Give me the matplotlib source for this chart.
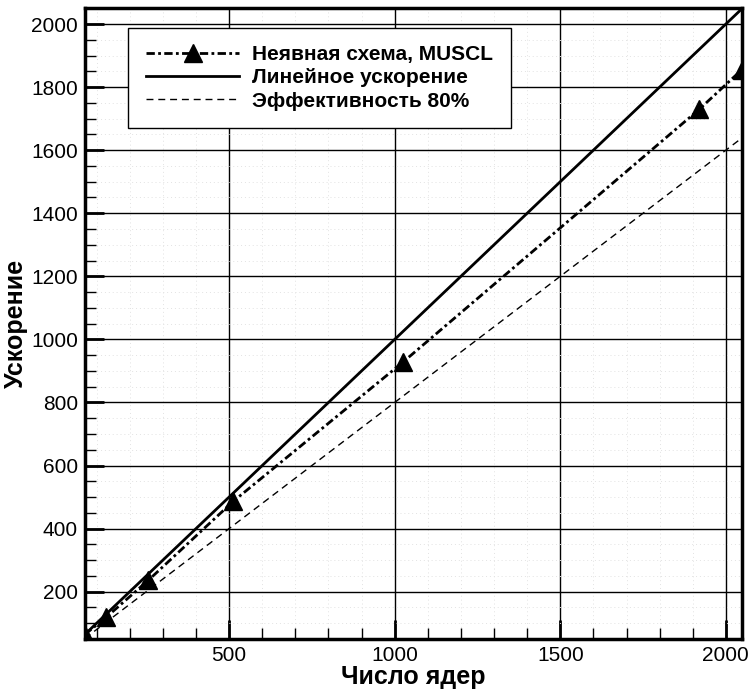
import matplotlib
matplotlib.use("Agg")
import matplotlib.pyplot as plt
from matplotlib.ticker import MultipleLocator

# Данные: число ядер и ускорение
cores = [64, 128, 256, 512, 1024, 1920, 2048]
speedup = [64, 118, 236, 486, 927, 1730, 1855]
ideal_x = [64, 2048]
ideal_y = [64, 2048]
eff80_y = [0.8 * v for v in ideal_y]

plt.rcParams['font.family'] = ['Liberation Sans', 'DejaVu Sans']

fig = plt.figure(figsize=(7.5, 6.9), dpi=100)
ax = fig.add_axes([0.113, 0.074, 0.876, 0.914])

ax.plot(cores, speedup, color='black', lw=2.0, dashes=(3, 1.2, 1, 1.2),
        marker='^', markersize=13, label='Неявная схема, MUSCL', zorder=4)
ax.plot(ideal_x, ideal_y, color='black', lw=2.0, label='Линейное ускорение', zorder=3)
ax.plot(ideal_x, eff80_y, color='black', lw=1.0, dashes=(5, 3.5),
        label='Эффективность 80%', zorder=3)

ax.set_xlim(64, 2048)
ax.set_ylim(50, 2050)

ax.xaxis.set_major_locator(MultipleLocator(500))
ax.xaxis.set_minor_locator(MultipleLocator(100))
ax.yaxis.set_major_locator(MultipleLocator(200))
ax.yaxis.set_minor_locator(MultipleLocator(50))

ax.grid(which='major', color='black', lw=1.0)
ax.grid(which='minor', color='#e2e2e2', lw=0.7, ls=(0, (1, 3)))
ax.set_axisbelow(True)

ax.tick_params(which='major', direction='in', length=14, width=2, labelsize=15, pad=5)
ax.tick_params(which='minor', direction='in', length=8, width=1)
for s in ax.spines.values():
    s.set_linewidth(2.5)

ax.set_xlabel('Число ядер', fontsize=18, fontweight='bold', labelpad=0)
ax.set_ylabel('Ускорение', fontsize=18, fontweight='bold', labelpad=2)

leg = ax.legend(loc='upper left', bbox_to_anchor=(0.05, 0.986),
                prop={'weight': 'bold', 'size': 15}, frameon=True, fancybox=False,
                edgecolor='black', framealpha=1, handlelength=4.5, handletextpad=0.6,
                borderpad=0.85, labelspacing=0.2)
leg.get_frame().set_linewidth(1.0)

fig.savefig('out.png', dpi=100)
